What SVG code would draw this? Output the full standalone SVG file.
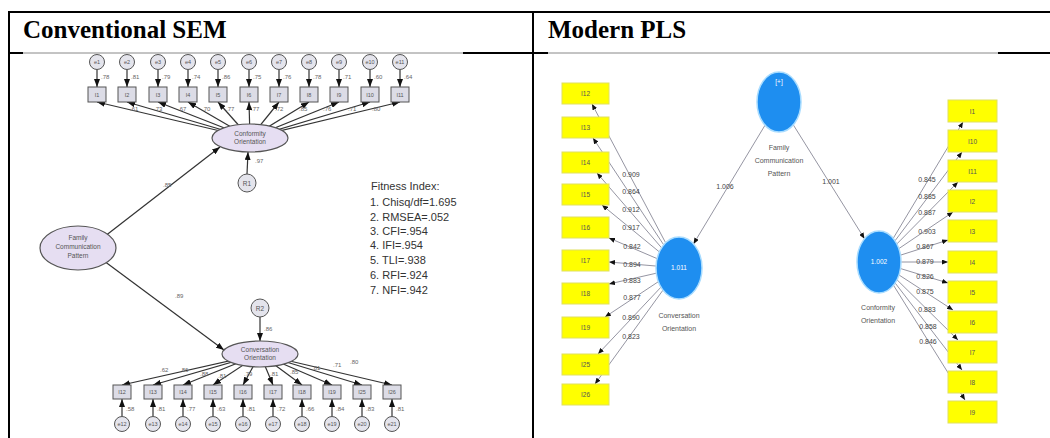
<svg xmlns="http://www.w3.org/2000/svg" width="1050" height="438" viewBox="0 0 1050 438">
<style>
.hdr{font-family:"Liberation Serif","Times New Roman",serif;font-weight:bold;font-size:25px;fill:#000}
.tb{stroke:#000;stroke-width:2;fill:none}
.tbl{stroke:#888;stroke-width:1;fill:none}
.sc{fill:#e4e4ec;stroke:#555;stroke-width:1}
.ss{fill:#dcdce6;stroke:#555;stroke-width:1}
.se{fill:#e6def2;stroke:#555;stroke-width:1.2}
.st{font-family:"Liberation Sans",Arial,sans-serif;font-size:5.5px;fill:#555;text-anchor:middle}
.sn{font-family:"Liberation Sans",Arial,sans-serif;font-size:6.5px;fill:#555;text-anchor:middle}
.sl{font-family:"Liberation Sans",Arial,sans-serif;font-size:6px;fill:#666}
.sa{stroke:#333;stroke-width:1.2;fill:none;marker-end:url(#ah)}
.fit{font-family:"Liberation Sans",Arial,sans-serif;font-size:11px;fill:#333}
.pb{fill:#ffff00;stroke:#e0e060;stroke-width:1}
.pt{font-family:"Liberation Sans",Arial,sans-serif;font-size:6.5px;fill:#555;text-anchor:middle}
.pc{fill:#1e8ef0;stroke:#a8dcff;stroke-width:1.5}
.pw{font-family:"Liberation Sans",Arial,sans-serif;font-size:6.5px;fill:#fff;text-anchor:middle}
.pn{font-family:"Liberation Sans",Arial,sans-serif;font-size:7px;fill:#555;text-anchor:middle}
.pl{font-family:"Liberation Sans",Arial,sans-serif;font-size:7px;fill:#444;text-anchor:middle}
.pa{stroke:#7a7a8a;stroke-width:0.8;fill:none;marker-end:url(#ph)}
</style>
<defs>
<marker id="ah" markerUnits="userSpaceOnUse" markerWidth="8" markerHeight="6" refX="8" refY="3" orient="auto"><path d="M0,0 L8,3 L0,6 z" fill="#111"/></marker>
<marker id="ph" markerUnits="userSpaceOnUse" markerWidth="6" markerHeight="5" refX="6" refY="2.5" orient="auto"><path d="M0,0 L6,2.5 L0,5 z" fill="#111"/></marker>
</defs>

<g id="table">
<line class="tb" x1="9" y1="12" x2="1050" y2="12"/>
<line class="tb" x1="9" y1="11" x2="9" y2="438"/>
<line class="tb" x1="533" y1="11" x2="533" y2="438"/>
<line class="tb" x1="9" y1="53" x2="23" y2="53"/>
<line class="tbl" x1="23" y1="53" x2="463" y2="53"/>
<line class="tb" x1="463" y1="53" x2="548" y2="53"/>
<line class="tbl" x1="548" y1="53" x2="998" y2="53"/>
<line class="tb" x1="998" y1="53" x2="1050" y2="53"/>
<text class="hdr" x="23" y="38">Conventional SEM</text>
<text class="hdr" x="548" y="38">Modern PLS</text>
</g>

<g id="sem-connectors">
<line class="sa" x1="97" y1="69.5" x2="97" y2="87"/>
<line class="sa" x1="127" y1="69.5" x2="127" y2="87"/>
<line class="sa" x1="158" y1="69.5" x2="158" y2="87"/>
<line class="sa" x1="188" y1="69.5" x2="188" y2="87"/>
<line class="sa" x1="218" y1="69.5" x2="218" y2="87"/>
<line class="sa" x1="249" y1="69.5" x2="249" y2="87"/>
<line class="sa" x1="279" y1="69.5" x2="279" y2="87"/>
<line class="sa" x1="309" y1="69.5" x2="309" y2="87"/>
<line class="sa" x1="339" y1="69.5" x2="339" y2="87"/>
<line class="sa" x1="370" y1="69.5" x2="370" y2="87"/>
<line class="sa" x1="400" y1="69.5" x2="400" y2="87"/>
<line class="sa" x1="250" y1="138" x2="97" y2="102"/>
<line class="sa" x1="250" y1="138" x2="127" y2="102"/>
<line class="sa" x1="250" y1="138" x2="158" y2="102"/>
<line class="sa" x1="250" y1="138" x2="188" y2="102"/>
<line class="sa" x1="250" y1="138" x2="218" y2="102"/>
<line class="sa" x1="250" y1="138" x2="249" y2="102"/>
<line class="sa" x1="250" y1="138" x2="279" y2="102"/>
<line class="sa" x1="250" y1="138" x2="309" y2="102"/>
<line class="sa" x1="250" y1="138" x2="339" y2="102"/>
<line class="sa" x1="250" y1="138" x2="370" y2="102"/>
<line class="sa" x1="250" y1="138" x2="400" y2="102"/>
<line class="sa" x1="247" y1="174" x2="248" y2="152"/>
<line class="sa" x1="100" y1="240" x2="220" y2="147"/>
<line class="sa" x1="100" y1="258" x2="224" y2="350"/>
<line class="sa" x1="260" y1="317" x2="260" y2="341"/>
<line class="sa" x1="260" y1="354" x2="122" y2="385"/>
<line class="sa" x1="260" y1="354" x2="153" y2="385"/>
<line class="sa" x1="260" y1="354" x2="183" y2="385"/>
<line class="sa" x1="260" y1="354" x2="213" y2="385"/>
<line class="sa" x1="260" y1="354" x2="243" y2="385"/>
<line class="sa" x1="260" y1="354" x2="273" y2="385"/>
<line class="sa" x1="260" y1="354" x2="302" y2="385"/>
<line class="sa" x1="260" y1="354" x2="332" y2="385"/>
<line class="sa" x1="260" y1="354" x2="362" y2="385"/>
<line class="sa" x1="260" y1="354" x2="392" y2="385"/>
<line class="sa" x1="122" y1="416.5" x2="122" y2="399"/>
<line class="sa" x1="153" y1="416.5" x2="153" y2="399"/>
<line class="sa" x1="183" y1="416.5" x2="183" y2="399"/>
<line class="sa" x1="213" y1="416.5" x2="213" y2="399"/>
<line class="sa" x1="243" y1="416.5" x2="243" y2="399"/>
<line class="sa" x1="273" y1="416.5" x2="273" y2="399"/>
<line class="sa" x1="302" y1="416.5" x2="302" y2="399"/>
<line class="sa" x1="332" y1="416.5" x2="332" y2="399"/>
<line class="sa" x1="362" y1="416.5" x2="362" y2="399"/>
<line class="sa" x1="392" y1="416.5" x2="392" y2="399"/>
<text class="sl" x="101" y="79">.78</text>
<text class="sl" x="131" y="79">.81</text>
<text class="sl" x="162" y="79">.79</text>
<text class="sl" x="192" y="79">.74</text>
<text class="sl" x="222" y="79">.86</text>
<text class="sl" x="253" y="79">.75</text>
<text class="sl" x="283" y="79">.76</text>
<text class="sl" x="313" y="79">.78</text>
<text class="sl" x="343" y="79">.71</text>
<text class="sl" x="374" y="79">.60</text>
<text class="sl" x="404" y="79">.64</text>
<text class="sl" x="130" y="111">.61</text>
<text class="sl" x="154" y="111">.73</text>
<text class="sl" x="178" y="111">.67</text>
<text class="sl" x="202" y="111">.70</text>
<text class="sl" x="226" y="111">.77</text>
<text class="sl" x="251" y="111">.77</text>
<text class="sl" x="275" y="111">.72</text>
<text class="sl" x="299" y="111">.85</text>
<text class="sl" x="323" y="111">.76</text>
<text class="sl" x="348" y="111">.71</text>
<text class="sl" x="372" y="111">.80</text>
<text class="sl" x="255" y="163">.97</text>
<text class="sl" x="163" y="187">.85</text>
<text class="sl" x="175" y="298">.89</text>
<text class="sl" x="264" y="331">.86</text>
<text class="sl" x="160" y="372">.62</text>
<text class="sl" x="180" y="372">.86</text>
<text class="sl" x="200" y="376">.88</text>
<text class="sl" x="218" y="378">.81</text>
<text class="sl" x="244" y="376">.79</text>
<text class="sl" x="270" y="376">.81</text>
<text class="sl" x="290" y="374">.85</text>
<text class="sl" x="312" y="370">.81</text>
<text class="sl" x="333" y="367">.71</text>
<text class="sl" x="350" y="364">.80</text>
<text class="sl" x="126" y="411">.58</text>
<text class="sl" x="157" y="411">.81</text>
<text class="sl" x="187" y="411">.77</text>
<text class="sl" x="217" y="411">.63</text>
<text class="sl" x="247" y="411">.81</text>
<text class="sl" x="277" y="411">.72</text>
<text class="sl" x="306" y="411">.66</text>
<text class="sl" x="336" y="411">.84</text>
<text class="sl" x="366" y="411">.83</text>
<text class="sl" x="396" y="411">.81</text>
</g>

<g id="sem-e1"><circle class="sc" cx="97" cy="62" r="7.5"/><text class="st" x="97" y="64">e1</text></g>
<g id="sem-e2"><circle class="sc" cx="127" cy="62" r="7.5"/><text class="st" x="127" y="64">e2</text></g>
<g id="sem-e3"><circle class="sc" cx="158" cy="62" r="7.5"/><text class="st" x="158" y="64">e3</text></g>
<g id="sem-e4"><circle class="sc" cx="188" cy="62" r="7.5"/><text class="st" x="188" y="64">e4</text></g>
<g id="sem-e5"><circle class="sc" cx="218" cy="62" r="7.5"/><text class="st" x="218" y="64">e5</text></g>
<g id="sem-e6"><circle class="sc" cx="249" cy="62" r="7.5"/><text class="st" x="249" y="64">e6</text></g>
<g id="sem-e7"><circle class="sc" cx="279" cy="62" r="7.5"/><text class="st" x="279" y="64">e7</text></g>
<g id="sem-e8"><circle class="sc" cx="309" cy="62" r="7.5"/><text class="st" x="309" y="64">e8</text></g>
<g id="sem-e9"><circle class="sc" cx="339" cy="62" r="7.5"/><text class="st" x="339" y="64">e9</text></g>
<g id="sem-e10"><circle class="sc" cx="370" cy="62" r="7.5"/><text class="st" x="370" y="64">e10</text></g>
<g id="sem-e11"><circle class="sc" cx="400" cy="62" r="7.5"/><text class="st" x="400" y="64">e11</text></g>

<g id="sem-i1"><rect class="ss" x="88" y="87" width="18" height="15"/><text class="st" x="97" y="96.5">I1</text></g>
<g id="sem-i2"><rect class="ss" x="118" y="87" width="18" height="15"/><text class="st" x="127" y="96.5">I2</text></g>
<g id="sem-i3"><rect class="ss" x="149" y="87" width="18" height="15"/><text class="st" x="158" y="96.5">I3</text></g>
<g id="sem-i4"><rect class="ss" x="179" y="87" width="18" height="15"/><text class="st" x="188" y="96.5">I4</text></g>
<g id="sem-i5"><rect class="ss" x="209" y="87" width="18" height="15"/><text class="st" x="218" y="96.5">I5</text></g>
<g id="sem-i6"><rect class="ss" x="240" y="87" width="18" height="15"/><text class="st" x="249" y="96.5">I6</text></g>
<g id="sem-i7"><rect class="ss" x="270" y="87" width="18" height="15"/><text class="st" x="279" y="96.5">I7</text></g>
<g id="sem-i8"><rect class="ss" x="300" y="87" width="18" height="15"/><text class="st" x="309" y="96.5">I8</text></g>
<g id="sem-i9"><rect class="ss" x="330" y="87" width="18" height="15"/><text class="st" x="339" y="96.5">I9</text></g>
<g id="sem-i10"><rect class="ss" x="361" y="87" width="18" height="15"/><text class="st" x="370" y="96.5">I10</text></g>
<g id="sem-i11"><rect class="ss" x="391" y="87" width="18" height="15"/><text class="st" x="400" y="96.5">I11</text></g>

<g id="sem-conformity"><ellipse class="se" cx="250" cy="138" rx="38" ry="14"/><text class="sn" x="250" y="136">Conformity</text><text class="sn" x="250" y="144">Orientation</text></g>
<g id="sem-r1"><circle class="sc" cx="247" cy="183" r="9"/><text class="sn" x="247" y="185.5">R1</text></g>
<g id="sem-fcp"><ellipse class="se" cx="78" cy="248" rx="38" ry="22"/><text class="sn" x="78" y="240">Family</text><text class="sn" x="78" y="249">Communication</text><text class="sn" x="78" y="258">Pattern</text></g>
<g id="sem-r2"><circle class="sc" cx="260" cy="308" r="9"/><text class="sn" x="260" y="310.5">R2</text></g>
<g id="sem-conversation"><ellipse class="se" cx="260" cy="354" rx="38" ry="13"/><text class="sn" x="260" y="352">Conversation</text><text class="sn" x="260" y="360">Orientation</text></g>

<g id="sem-i12"><rect class="ss" x="113" y="385" width="18" height="14"/><text class="st" x="122" y="394">I12</text></g>
<g id="sem-i13"><rect class="ss" x="144" y="385" width="18" height="14"/><text class="st" x="153" y="394">I13</text></g>
<g id="sem-i14"><rect class="ss" x="174" y="385" width="18" height="14"/><text class="st" x="183" y="394">I14</text></g>
<g id="sem-i15"><rect class="ss" x="204" y="385" width="18" height="14"/><text class="st" x="213" y="394">I15</text></g>
<g id="sem-i16"><rect class="ss" x="234" y="385" width="18" height="14"/><text class="st" x="243" y="394">I16</text></g>
<g id="sem-i17"><rect class="ss" x="264" y="385" width="18" height="14"/><text class="st" x="273" y="394">I17</text></g>
<g id="sem-i18"><rect class="ss" x="293" y="385" width="18" height="14"/><text class="st" x="302" y="394">I18</text></g>
<g id="sem-i19"><rect class="ss" x="323" y="385" width="18" height="14"/><text class="st" x="332" y="394">I19</text></g>
<g id="sem-i25"><rect class="ss" x="353" y="385" width="18" height="14"/><text class="st" x="362" y="394">I25</text></g>
<g id="sem-i26"><rect class="ss" x="383" y="385" width="18" height="14"/><text class="st" x="392" y="394">I26</text></g>

<g id="sem-e12"><circle class="sc" cx="122" cy="424" r="7.5"/><text class="st" x="122" y="426">e12</text></g>
<g id="sem-e13"><circle class="sc" cx="153" cy="424" r="7.5"/><text class="st" x="153" y="426">e13</text></g>
<g id="sem-e14"><circle class="sc" cx="183" cy="424" r="7.5"/><text class="st" x="183" y="426">e14</text></g>
<g id="sem-e15"><circle class="sc" cx="213" cy="424" r="7.5"/><text class="st" x="213" y="426">e15</text></g>
<g id="sem-e16"><circle class="sc" cx="243" cy="424" r="7.5"/><text class="st" x="243" y="426">e16</text></g>
<g id="sem-e17"><circle class="sc" cx="273" cy="424" r="7.5"/><text class="st" x="273" y="426">e17</text></g>
<g id="sem-e18"><circle class="sc" cx="302" cy="424" r="7.5"/><text class="st" x="302" y="426">e18</text></g>
<g id="sem-e19"><circle class="sc" cx="332" cy="424" r="7.5"/><text class="st" x="332" y="426">e19</text></g>
<g id="sem-e20"><circle class="sc" cx="362" cy="424" r="7.5"/><text class="st" x="362" y="426">e20</text></g>
<g id="sem-e21"><circle class="sc" cx="392" cy="424" r="7.5"/><text class="st" x="392" y="426">e21</text></g>

<g id="fitness-index">
<text class="fit" x="371" y="190">Fitness Index:</text>
<text class="fit" x="370" y="206">1. Chisq/df=1.695</text>
<text class="fit" x="370" y="221">2. RMSEA=.052</text>
<text class="fit" x="370" y="235">3. CFI=.954</text>
<text class="fit" x="370" y="249">4. IFI=.954</text>
<text class="fit" x="370" y="264">5. TLI=.938</text>
<text class="fit" x="370" y="279">6. RFI=.924</text>
<text class="fit" x="370" y="294">7. NFI=.942</text>
</g>

<g id="pls-connectors">
<line class="pa" x1="779" y1="102" x2="693.5" y2="243.9"/>
<line class="pa" x1="779" y1="102" x2="864.5" y2="238.7"/>
<line class="pa" x1="679" y1="268" x2="592" y2="104"/>
<line class="pa" x1="679" y1="268" x2="593" y2="138"/>
<line class="pa" x1="679" y1="268" x2="597" y2="173"/>
<line class="pa" x1="679" y1="268" x2="602" y2="205"/>
<line class="pa" x1="679" y1="268" x2="609" y2="238"/>
<line class="pa" x1="679" y1="268" x2="609" y2="262"/>
<line class="pa" x1="679" y1="268" x2="609" y2="284"/>
<line class="pa" x1="679" y1="268" x2="605" y2="317"/>
<line class="pa" x1="679" y1="268" x2="598" y2="354"/>
<line class="pa" x1="679" y1="268" x2="595" y2="384"/>
<line class="pa" x1="879" y1="262" x2="963" y2="122"/>
<line class="pa" x1="879" y1="262" x2="962" y2="152"/>
<line class="pa" x1="879" y1="262" x2="958" y2="182"/>
<line class="pa" x1="879" y1="262" x2="953" y2="212"/>
<line class="pa" x1="879" y1="262" x2="948" y2="240"/>
<line class="pa" x1="879" y1="262" x2="948" y2="262"/>
<line class="pa" x1="879" y1="262" x2="948" y2="283"/>
<line class="pa" x1="879" y1="262" x2="953" y2="310"/>
<line class="pa" x1="879" y1="262" x2="958" y2="340"/>
<line class="pa" x1="879" y1="262" x2="962" y2="370"/>
<line class="pa" x1="879" y1="262" x2="965" y2="400"/>
<text class="pl" x="725" y="189">1.006</text>
<text class="pl" x="831" y="184">1.001</text>
<text class="pl" x="631" y="177">0.909</text>
<text class="pl" x="631" y="194">0.864</text>
<text class="pl" x="631" y="212">0.912</text>
<text class="pl" x="631" y="230">0.917</text>
<text class="pl" x="632" y="249">0.842</text>
<text class="pl" x="632" y="267">0.894</text>
<text class="pl" x="632" y="283">0.883</text>
<text class="pl" x="632" y="300">0.877</text>
<text class="pl" x="631" y="320">0.890</text>
<text class="pl" x="631" y="339">0.823</text>
<text class="pl" x="927" y="182">0.845</text>
<text class="pl" x="927" y="199">0.885</text>
<text class="pl" x="927" y="215">0.887</text>
<text class="pl" x="927" y="234">0.903</text>
<text class="pl" x="925" y="249">0.867</text>
<text class="pl" x="925" y="264">0.879</text>
<text class="pl" x="925" y="279">0.826</text>
<text class="pl" x="925" y="294">0.875</text>
<text class="pl" x="927" y="312">0.883</text>
<text class="pl" x="928" y="329">0.858</text>
<text class="pl" x="928" y="344">0.846</text>
</g>

<g id="pls-fcp"><ellipse class="pc" cx="779" cy="102" rx="22" ry="30"/><text class="pw" x="779" y="84">[+]</text><text class="pn" x="779" y="150">Family</text><text class="pn" x="779" y="163">Communication</text><text class="pn" x="779" y="176">Pattern</text></g>
<g id="pls-conversation"><ellipse class="pc" cx="679" cy="268" rx="23" ry="31"/><text class="pw" x="679" y="270">1.011</text><text class="pn" x="679" y="318">Conversation</text><text class="pn" x="679" y="331">Orientation</text></g>
<g id="pls-conformity"><ellipse class="pc" cx="879" cy="262" rx="22" ry="31"/><text class="pw" x="879" y="264">1.002</text><text class="pn" x="878" y="310">Conformity</text><text class="pn" x="878" y="323">Orientation</text></g>

<g id="pls-i12"><rect class="pb" x="562" y="83" width="47" height="21"/><text class="pt" x="585.5" y="96">I12</text></g>
<g id="pls-i13"><rect class="pb" x="562" y="117" width="47" height="21"/><text class="pt" x="585.5" y="130">I13</text></g>
<g id="pls-i14"><rect class="pb" x="562" y="152" width="47" height="21"/><text class="pt" x="585.5" y="165">I14</text></g>
<g id="pls-i15"><rect class="pb" x="562" y="184" width="47" height="21"/><text class="pt" x="585.5" y="197">I15</text></g>
<g id="pls-i16"><rect class="pb" x="562" y="217" width="47" height="21"/><text class="pt" x="585.5" y="230">I16</text></g>
<g id="pls-i17"><rect class="pb" x="562" y="250" width="47" height="21"/><text class="pt" x="585.5" y="263">I17</text></g>
<g id="pls-i18"><rect class="pb" x="562" y="283" width="47" height="21"/><text class="pt" x="585.5" y="296">I18</text></g>
<g id="pls-i19"><rect class="pb" x="562" y="317" width="47" height="21"/><text class="pt" x="585.5" y="330">I19</text></g>
<g id="pls-i25"><rect class="pb" x="562" y="354" width="47" height="21"/><text class="pt" x="585.5" y="367">I25</text></g>
<g id="pls-i26"><rect class="pb" x="562" y="384" width="47" height="21"/><text class="pt" x="585.5" y="397">I26</text></g>

<g id="pls-i1"><rect class="pb" x="948" y="100" width="49" height="22"/><text class="pt" x="972.5" y="113.5">I1</text></g>
<g id="pls-i10"><rect class="pb" x="948" y="130" width="49" height="22"/><text class="pt" x="972.5" y="143.5">I10</text></g>
<g id="pls-i11"><rect class="pb" x="948" y="160" width="49" height="22"/><text class="pt" x="972.5" y="173.5">I11</text></g>
<g id="pls-i2"><rect class="pb" x="948" y="190" width="49" height="22"/><text class="pt" x="972.5" y="203.5">I2</text></g>
<g id="pls-i3"><rect class="pb" x="948" y="220" width="49" height="22"/><text class="pt" x="972.5" y="233.5">I3</text></g>
<g id="pls-i4"><rect class="pb" x="948" y="251" width="49" height="22"/><text class="pt" x="972.5" y="264.5">I4</text></g>
<g id="pls-i5"><rect class="pb" x="948" y="281" width="49" height="22"/><text class="pt" x="972.5" y="294.5">I5</text></g>
<g id="pls-i6"><rect class="pb" x="948" y="311" width="49" height="22"/><text class="pt" x="972.5" y="324.5">I6</text></g>
<g id="pls-i7"><rect class="pb" x="948" y="341" width="49" height="22"/><text class="pt" x="972.5" y="354.5">I7</text></g>
<g id="pls-i8"><rect class="pb" x="948" y="371" width="49" height="22"/><text class="pt" x="972.5" y="384.5">I8</text></g>
<g id="pls-i9"><rect class="pb" x="948" y="401" width="49" height="22"/><text class="pt" x="972.5" y="414.5">I9</text></g>
</svg>
